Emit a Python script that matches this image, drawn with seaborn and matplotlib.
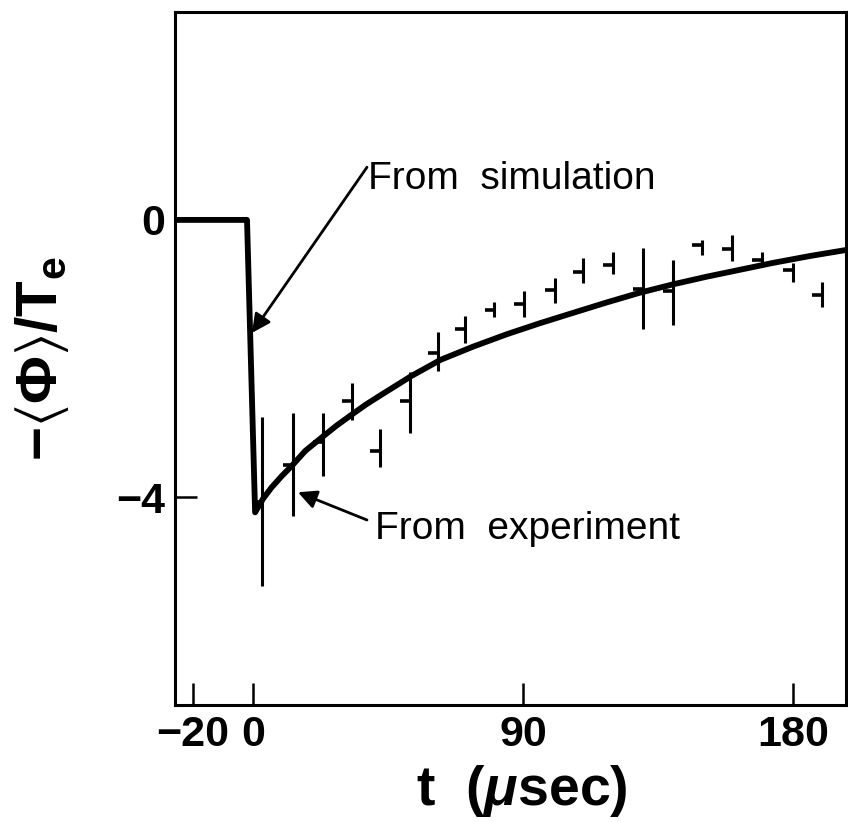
import matplotlib
matplotlib.use("Agg")
import numpy as np
import pandas as pd
import seaborn as sns
import matplotlib.pyplot as plt

# ---------------- data ----------------
# simulation curve (thick line)
sim_t = [-26, -2, 0.7, 3.4, 6.2, 9.5, 12.9, 17.5, 22.9, 27.8, 32.9, 37.8, 42.9,
         52.9, 62.5, 73.3, 84.6, 95.7, 106.8, 118, 129, 140, 151.2, 162.3,
         173.4, 185.8, 198.3]
sim_v = [0, 0, -4.22, -4.02, -3.86, -3.70, -3.55, -3.33, -3.14, -2.97, -2.81,
         -2.66, -2.52, -2.25, -2.02, -1.83, -1.65, -1.49, -1.34, -1.19, -1.05,
         -0.93, -0.82, -0.72, -0.62, -0.52, -0.43]

# experimental points with error bars
exp_t = [3, 13.4, 23.4, 33, 42.3, 52.3, 61.7, 70.7, 80.5, 90.3, 100.7, 110,
         120, 130, 140, 149.7, 159.7, 169.7, 180, 189.7]
exp_v = [-4.07, -3.53, -3.20, -2.61, -3.33, -2.61, -1.92, -1.58, -1.30, -1.22,
         -1.01, -0.75, -0.65, -1.00, -1.02, -0.36, -0.42, -0.58, -0.72, -1.08]
exp_top = [-2.85, -2.78, -2.78, -2.35, -3.02, -2.20, -1.62, -1.38, -1.19, -1.03,
           -0.84, -0.55, -0.47, -0.40, -0.58, -0.29, -0.22, -0.46, -0.62, -0.89]
exp_bot = [-5.28, -4.27, -3.69, -2.88, -3.57, -3.07, -2.18, -1.77, -1.40, -1.40,
           -1.20, -0.91, -0.78, -1.58, -1.51, -0.50, -0.60, -0.68, -0.89, -1.25]

x_ticks = [-20, 0, 90, 180]
y_ticks = [0, -4]
x_ticklabels = ["\u221220", "0", "90", "180"]
y_ticklabels = ["0", "\u22124"]

# ---------------- style ----------------
sns.set_style("white")
plt.rcParams["font.family"] = ["Liberation Sans", "DejaVu Sans"]
plt.rcParams["text.color"] = "black"
plt.rcParams["axes.labelcolor"] = "black"
plt.rcParams["xtick.color"] = "black"
plt.rcParams["ytick.color"] = "black"
plt.rcParams["mathtext.fontset"] = "custom"
plt.rcParams["mathtext.rm"] = "Liberation Sans:bold"
plt.rcParams["mathtext.bf"] = "Liberation Sans:bold"
plt.rcParams["mathtext.it"] = "Liberation Sans:bold:italic"
plt.rcParams["mathtext.fallback"] = "stixsans"

fig = plt.figure(figsize=(8.48, 8.22), dpi=100)
ax = fig.add_axes([0.2064, 0.1423, 0.7912, 0.8431])

sim_df = pd.DataFrame({"t": sim_t, "v": sim_v})
sns.lineplot(data=sim_df, x="t", y="v", sort=False, estimator=None,
             color="black", linewidth=4.2, ax=ax,
             solid_joinstyle="round", solid_capstyle="round")

exp_df = pd.DataFrame({"t": exp_t, "v": exp_v, "top": exp_top, "bot": exp_bot})
ax.vlines(exp_df["t"], exp_df["bot"], exp_df["top"], color="black", linewidth=2.2)
ax.hlines(exp_df["v"], exp_df["t"] - 3.3, exp_df["t"], color="black", linewidth=2.6)

ax.set_xlim(-26, 197.7)
ax.set_ylim(-7, 3)

ax.set_xticks(x_ticks)
ax.set_xticklabels(x_ticklabels)
ax.set_yticks(y_ticks)
ax.set_yticklabels(y_ticklabels)
ax.tick_params(axis="both", direction="in", length=16, width=1.8, color="black",
               labelsize=31, pad=7, bottom=True, left=True, top=False, right=False,
               labelcolor="black")
for lab in ax.get_xticklabels() + ax.get_yticklabels():
    lab.set_fontweight("bold")

for sp in ax.spines.values():
    sp.set_visible(True)
    sp.set_linewidth(2.2)
    sp.set_color("black")

ax.set_xlabel(r"t  ($\mu$sec)", fontsize=40, fontweight="bold", color="black")
ax.xaxis.set_label_coords(0.517, -0.083)
ax.set_ylabel(r"$-\langle\Phi\rangle/\mathrm{T}_\mathrm{e}$", fontsize=42,
              fontweight="bold", color="black")
ax.yaxis.set_label_coords(-0.155, 0.5)

# annotations
ax.text(38.3, 0.45, "From  simulation", fontsize=28, ha="left", va="baseline",
        color="black")
ax.annotate("", xy=(-0.33, -1.63), xytext=(38, 0.76),
            arrowprops=dict(arrowstyle="-|>", lw=2, color="black",
                            mutation_scale=28, shrinkA=0, shrinkB=0))
ax.text(40.7, -4.60, "From  experiment", fontsize=28, ha="left", va="baseline",
        color="black")
ax.annotate("", xy=(15, -3.93), xytext=(38, -4.33),
            arrowprops=dict(arrowstyle="-|>", lw=2, color="black",
                            mutation_scale=28, shrinkA=0, shrinkB=0))

fig.savefig("out.png", dpi=100)
